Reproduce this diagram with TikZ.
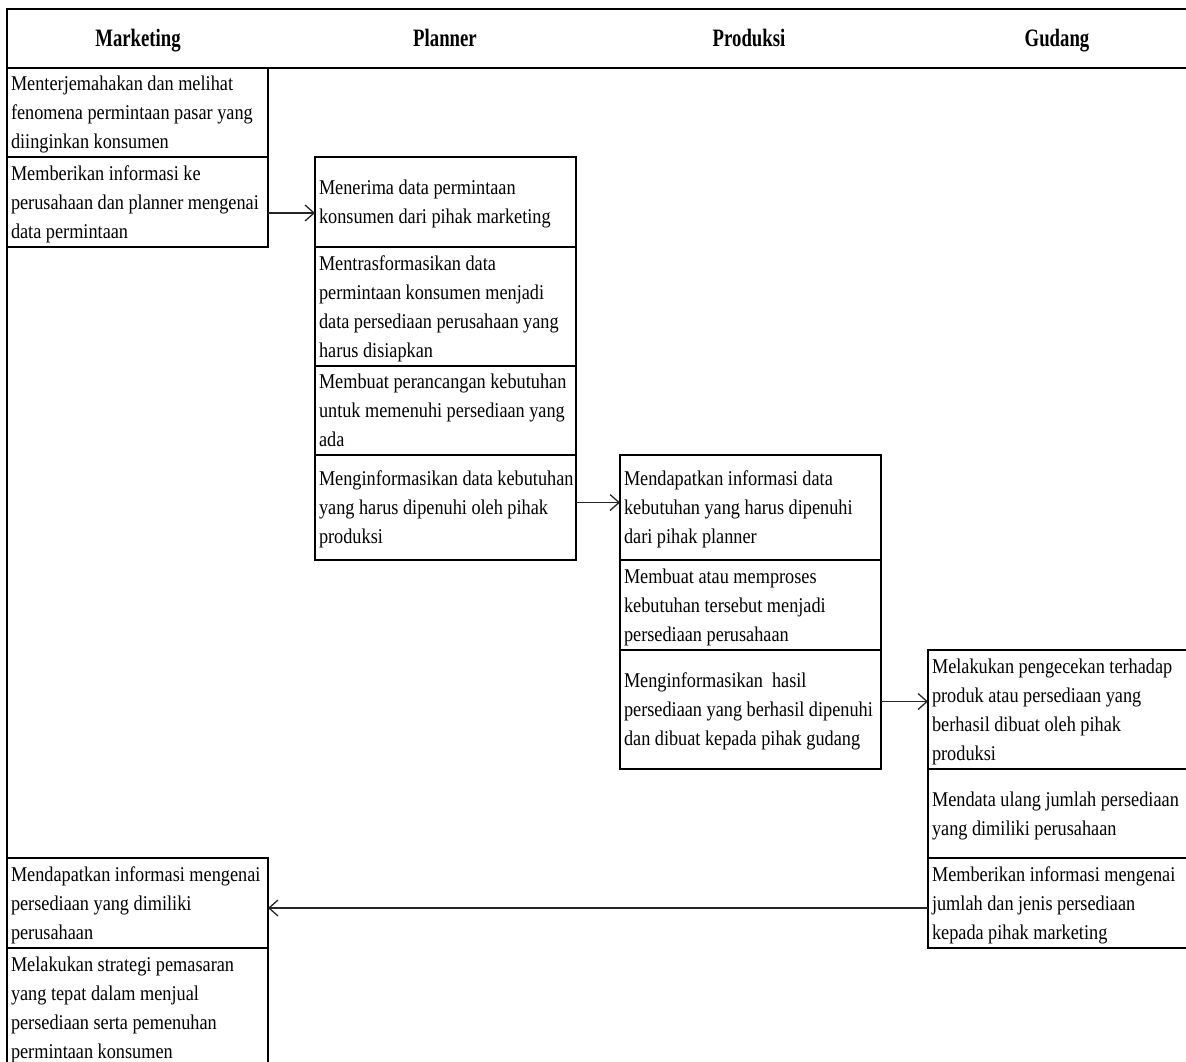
\documentclass[tikz,border=0pt]{standalone}
\usepackage{fontspec}
\setmainfont{Liberation Serif}
\newfontfamily\bodyfont[FakeStretch=0.87]{Liberation Serif}
\newfontfamily\headfont[FakeStretch=0.75]{Liberation Serif}
\usetikzlibrary{arrows.meta,calc}
\newcommand{\linestrut}{\rule[-7.5pt]{0pt}{29pt}}
\tikzset{
  box/.style={draw, line width=1.1pt, rectangle, anchor=north west,
    minimum width=261pt, text width=253pt, align=left, inner sep=0pt, inner xsep=4pt,
    outer sep=0pt, minimum height=#1, font=\bodyfont\fontsize{21}{29}\selectfont,
    execute at begin node={\spaceskip=4.5pt\relax\linestrut},
    execute at end node={\linestrut}},
  gbox/.style={box=#1, minimum width=280pt, text width=272pt},
  head/.style={anchor=base, font=\headfont\bfseries\fontsize{25}{30}\selectfont},
  arr/.style={-{Straight Barb[length=9pt,width=16pt,line width=1.3pt]}, line width=1.3pt, draw=black!85}
}
\begin{document}
\begin{tikzpicture}[x=1pt,y=-1pt]
\useasboundingbox (0,0) rectangle (1186,1061);
\node[draw, line width=1.1pt, anchor=north west, minimum width=1193pt, minimum height=59pt, outer sep=0pt, inner sep=0pt] (hdr) at (7,9) {};
\draw[line width=1.1pt] (hdr.south west) -- ++(0,1010);
\node[head] (hM) at (138,46) {Marketing};
\node[head] (hP) at (445,46) {Planner};
\node[head] (hR) at (749,46) {Produksi};
\node[head] (hG) at (1057,46) {Gudang};

\node[box=89pt] (M1) at (7,68) {\mbox{Menterjemahakan dan melihat}\\\mbox{fenomena permintaan pasar yang}\\\mbox{diinginkan konsumen}};
\node[box=90pt] (M2) at (7,157) {\mbox{Memberikan informasi ke}\\\mbox{perusahaan dan planner mengenai}\\\mbox{data permintaan}};
\node[box=90pt] (P1) at (315,157) {\mbox{Menerima data permintaan}\\\mbox{konsumen dari pihak marketing}};
\node[box=119pt] (P2) at (315,247) {\mbox{Mentrasformasikan data}\\\mbox{permintaan konsumen menjadi}\\\mbox{data persediaan perusahaan yang}\\\mbox{harus disiapkan}};
\node[box=89pt] (P3) at (315,366) {\mbox{Membuat perancangan kebutuhan}\\\mbox{untuk memenuhi persediaan yang}\\\mbox{ada}};
\node[box=105pt] (P4) at (315,455) {\mbox{Menginformasikan data kebutuhan}\\\mbox{yang harus dipenuhi oleh pihak}\\\mbox{produksi}};
\node[box=105pt] (R1) at (620,455) {\mbox{Mendapatkan informasi data}\\\mbox{kebutuhan yang harus dipenuhi}\\\mbox{dari pihak planner}};
\node[box=90pt] (R2) at (620,560) {\mbox{Membuat atau memproses}\\\mbox{kebutuhan tersebut menjadi}\\\mbox{persediaan perusahaan}};
\node[box=119pt] (R3) at (620,650) {\mbox{Menginformasikan\hspace{9pt}hasil}\\\mbox{persediaan yang berhasil dipenuhi}\\\mbox{dan dibuat kepada pihak gudang}};
\node[gbox=119pt] (G1) at (928,650) {\mbox{Melakukan pengecekan terhadap}\\\mbox{produk atau persediaan yang}\\\mbox{berhasil dibuat oleh pihak}\\\mbox{produksi}};
\node[gbox=89pt] (G2) at (928,769) {\mbox{Mendata ulang jumlah persediaan}\\\mbox{yang dimiliki perusahaan}};
\node[gbox=90pt] (G3) at (928,858) {\mbox{Memberikan informasi mengenai}\\\mbox{jumlah dan jenis persediaan}\\\mbox{kepada pihak marketing}};
\node[box=90pt] (M3) at (7,858) {\mbox{Mendapatkan informasi mengenai}\\\mbox{persediaan yang dimiliki}\\\mbox{perusahaan}};
\node[box=120pt] (M4) at (7,948) {\mbox{Melakukan strategi pemasaran}\\\mbox{yang tepat dalam menjual}\\\mbox{persediaan serta pemenuhan}\\\mbox{permintaan konsumen}};

\draw[arr] ($(M2.east)+(0,11)$) -- ($(P1.west)+(0,11)$);
\draw[arr] ($(P4.east)+(0,-5)$) -- ($(R1.west)+(0,-5)$);
\draw[arr] ($(R3.east)+(0,-8)$) -- ($(G1.west)+(0,-8)$);
\draw[arr] ($(G3.west)+(0,5)$) -- ($(M3.east)+(0,5)$);
\end{tikzpicture}
\end{document}
